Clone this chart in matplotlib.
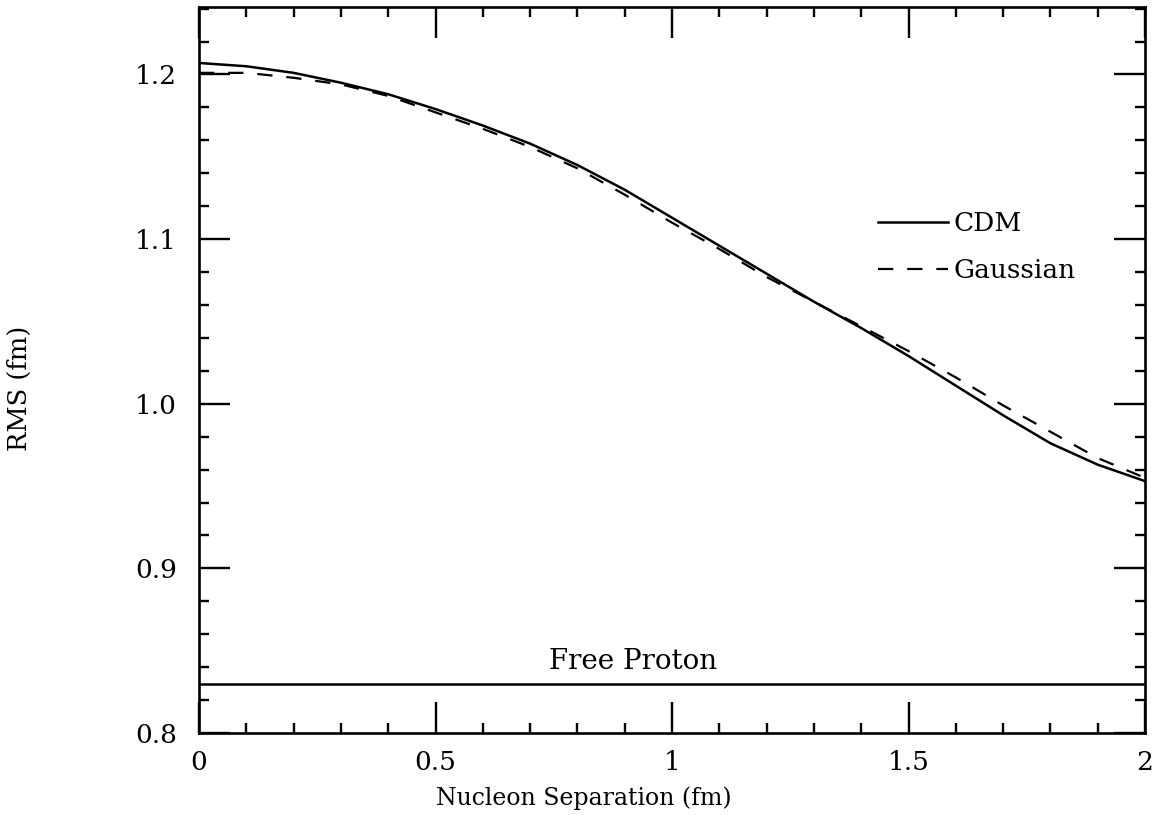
import numpy as np
import matplotlib
matplotlib.use('Agg')
import matplotlib.pyplot as plt

# values
sep = [0.0, 0.1, 0.2, 0.3, 0.4, 0.5, 0.6, 0.7, 0.8, 0.9, 1.0,
       1.1, 1.2, 1.3, 1.4, 1.5, 1.6, 1.7, 1.8, 1.9, 2.0]
cdm = [1.207, 1.205, 1.201, 1.195, 1.188, 1.179, 1.169, 1.158, 1.145, 1.130, 1.113,
       1.096, 1.079, 1.062, 1.046, 1.029, 1.011, 0.993, 0.976, 0.963, 0.953]
gauss = [1.201, 1.201, 1.198, 1.194, 1.187, 1.177, 1.167, 1.156, 1.143, 1.127, 1.110,
         1.094, 1.077, 1.062, 1.047, 1.032, 1.016, 0.999, 0.983, 0.967, 0.955]
free_proton = 0.83

plt.rcParams['font.family'] = ['DejaVu Serif']
plt.rcParams['lines.scale_dashes'] = False

fig = plt.figure(figsize=(11.52, 8.15), dpi=100)
ax = fig.add_axes([199/1152, 1-733/815, 946/1152, 726/815])

ax.plot(sep, cdm, color='black', lw=1.8, label='CDM')
ax.plot(sep, gauss, color='black', lw=1.6, dashes=(11, 10), label='Gaussian')
ax.axhline(free_proton, color='black', lw=1.8)
ax.text(0.918, free_proton + 0.0055, 'Free Proton', ha='center', va='bottom', fontsize=20)

ax.set_xlim(0, 2)
ax.set_ylim(0.8, 1.241)
ax.set_xticks([0, 0.5, 1, 1.5, 2])
ax.set_xticklabels(['0', '0.5', '1', '1.5', '2'])
ax.set_xticks(np.arange(0, 2.01, 0.1), minor=True)
ax.set_yticks([0.8, 0.9, 1.0, 1.1, 1.2])
ax.set_yticklabels(['0.8', '0.9', '1.0', '1.1', '1.2'])
ax.set_yticks(np.arange(0.8, 1.241, 0.02), minor=True)
ax.tick_params(which='both', direction='in', top=True, right=True, width=1.7, labelsize=19)
ax.tick_params(which='major', length=22)
ax.tick_params(axis='x', which='major', pad=12)
ax.tick_params(axis='y', which='major', pad=16)
ax.tick_params(which='minor', length=7.5)
for s in ax.spines.values():
    s.set_linewidth(1.9)

ax.set_xlabel('Nucleon Separation (fm)', fontsize=17)
ax.xaxis.set_label_coords(0.407, -0.073)
ax.set_ylabel('RMS (fm)', fontsize=18.5)
ax.yaxis.set_label_coords(-0.177, 0.475)

ax.legend(loc='upper left', bbox_to_anchor=(0.718, 0.719), frameon=False,
          fontsize=19, handlelength=2.65, handletextpad=0.2,
          labelspacing=0.85, borderpad=0, borderaxespad=0)

fig.savefig('out.png', dpi=100, facecolor='white')
